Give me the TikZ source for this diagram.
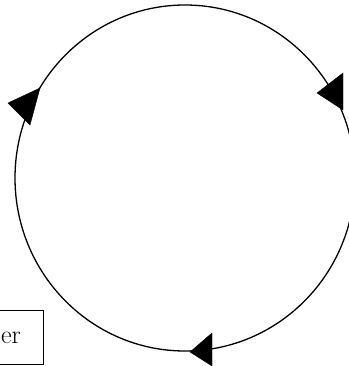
\documentclass[tikz,border=0pt]{standalone}
\usepackage{tikz}
\usetikzlibrary{positioning}

\begin{document}
\begin{tikzpicture}[
  x=1pt, y=-1pt,
  loopline/.style={line width=1.3pt, black},
  headfill/.style={fill=black, draw=black, line join=miter},
  labelbox/.style={draw, line width=1.1pt, inner xsep=9.5pt, inner ysep=0pt,
                   anchor=north west, minimum height=54pt,
                   font=\fontsize{26}{30}\selectfont, align=left,
                   text width=33pt}
]
  \useasboundingbox (0,0) rectangle (348,366);

  % the cycle
  \draw[loopline] (185,178) ellipse [x radius=170, y radius=173];

  % arrowheads on the cycle
  \filldraw[headfill] (8,103)   -- (40,88)  -- (30,125)  -- cycle;
  \filldraw[headfill] (317,93)  -- (343,73) -- (343,110) -- cycle;
  \filldraw[headfill] (190,352) -- (212,333) -- (212,366) -- cycle;

  % cut label box
  \node[labelbox] (stage) at (-9,310) {er};
\end{tikzpicture}
\end{document}
